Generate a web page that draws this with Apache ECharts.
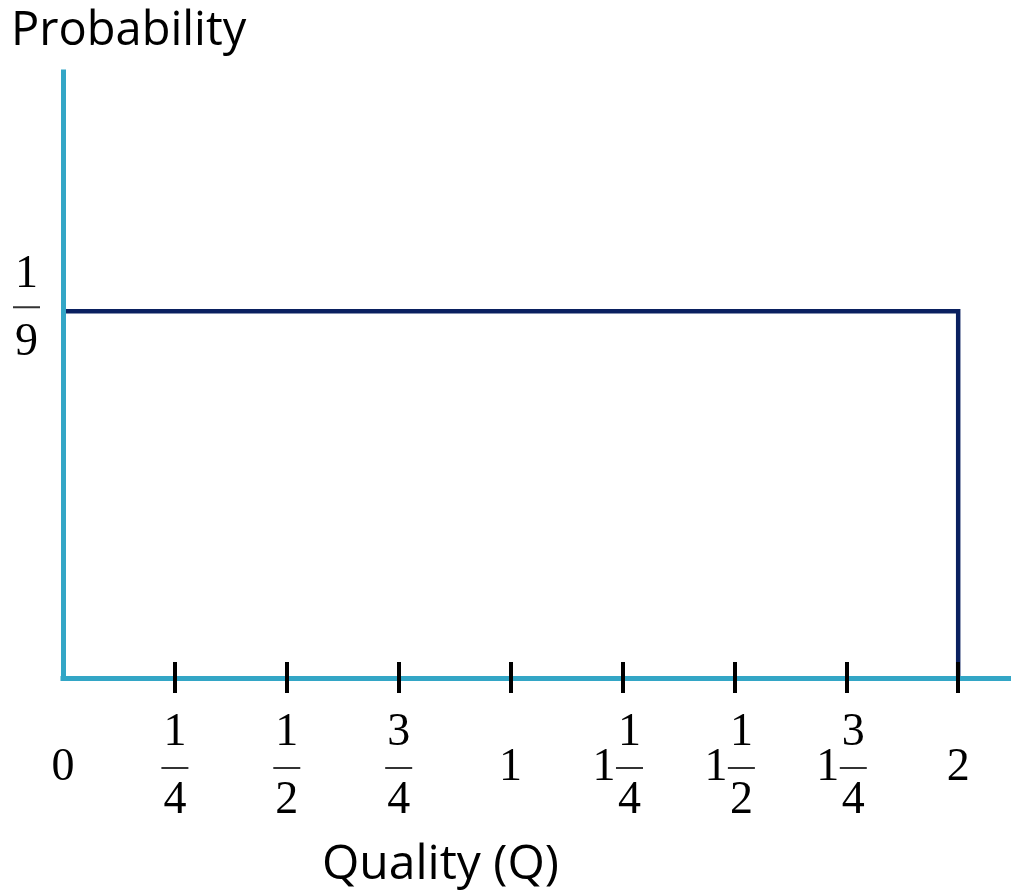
<!DOCTYPE html>
<html>
<head>
<meta charset="utf-8">
<script src="https://cdn.jsdelivr.net/npm/echarts@6/dist/echarts.min.js"></script>
<style>html,body{margin:0;padding:0;background:#fff;}#c{width:1011px;height:890px;}</style>
</head>
<body>
<div id="c"></div>
<script>
// ---- data ----
const xTickValues = [0.25, 0.5, 0.75, 1, 1.25, 1.5, 1.75, 2];
const xLabelValues = [0, 0.25, 0.5, 0.75, 1, 1.25, 1.5, 1.75, 2];
const xLabelWhole = ['0', '', '', '', '1', '1', '1', '1', '2'];
const xLabelNum   = ['', '1', '1', '3', '', '1', '1', '3', ''];
const xLabelDen   = ['', '4', '2', '4', '', '4', '2', '4', ''];
const yLabelValues = [1 / 9];
const yLabelNum = ['1'];
const yLabelDen = ['9'];
const probability = 1 / 9;
const seriesPoints = [[0, probability], [2, probability], [2, 0]];
const xName = 'Quality (Q)';
const yName = 'Probability';

// ---- styles ----
const axisBlue = '#33A6C6';
const lineNavy = '#0A2060';
const serif = '"Liberation Serif", "Times New Roman", serif';
const fs = 46;

function fracRich(nLH, dLH) {
  return {
    n: { fontFamily: serif, fontSize: fs, color: '#000', lineHeight: nLH, width: 27, align: 'center' },
    d: { fontFamily: serif, fontSize: fs, color: '#000', lineHeight: dLH, width: 27, align: 'center' },
    m: { fontFamily: serif, fontSize: fs, color: '#000', lineHeight: 6 },
    w: { fontFamily: serif, fontSize: fs, color: '#000', lineHeight: 6, width: 24, align: 'center' },
    t: { fontSize: 10, width: 10, lineHeight: 6 },
    bar: { width: 27, height: 0, borderWidth: 2, borderColor: '#333', lineHeight: 6 }
  };
}

function idxOf(arr, v) {
  for (let i = 0; i < arr.length; i++) if (Math.abs(arr[i] - v) < 1e-6) return i;
  return -1;
}

function xFormatter(value) {
  const i = idxOf(xLabelValues, value);
  if (i < 0) return '';
  const whole = xLabelWhole[i], num = xLabelNum[i], den = xLabelDen[i];
  if (num) {
    if (whole) {
      return '{w| }{n|' + num + '}{t| }\n{w|' + whole + '}{bar|}{t| }\n{w| }{d|' + den + '}{t| }';
    }
    return '{n|' + num + '}\n{bar|}\n{d|' + den + '}';
  }
  return '{n| }\n{m|' + whole + '}\n{d| }';
}

function yFormatter(value) {
  const i = idxOf(yLabelValues, value);
  if (i < 0) return '';
  return '{n|' + yLabelNum[i] + '}\n{bar|}\n{d|' + yLabelDen[i] + '}';
}

const chart = echarts.init(document.getElementById('c'), null, { renderer: 'canvas' });
const xMin = 0, xMax = 2.118;

chart.setOption({
  animation: false,
  backgroundColor: '#fff',
  grid: { left: 63, right: 0, top: 72, bottom: 212 },
  graphic: [
    { type: 'text', left: 11, top: 8, style: { text: yName, font: '47px "Open Sans"', fill: '#000' } },
    { type: 'text', left: 322, top: 841, style: { text: xName, font: '48px "Open Sans"', fill: '#000' } }
  ],
  xAxis: [
    {
      type: 'value', min: xMin, max: xMax, position: 'bottom', z: 5,
      axisLine: { show: true, onZero: false, lineStyle: { color: axisBlue, width: 5, cap: 'square' } },
      axisTick: { show: true, inside: true, length: 16, customValues: xTickValues, lineStyle: { color: '#000', width: 4 } },
      axisLabel: { show: true, customValues: xLabelValues, formatter: xFormatter, margin: 23, rich: fracRich(64, 60), hideOverlap: false },
      splitLine: { show: false }
    },
    {
      type: 'value', min: xMin, max: xMax, position: 'bottom', z: 6,
      axisLine: { show: false },
      axisTick: { show: true, inside: false, length: 15, customValues: xTickValues, lineStyle: { color: '#000', width: 4 } },
      axisLabel: { show: false },
      splitLine: { show: false }
    }
  ],
  yAxis: {
    type: 'value', min: 0, max: 0.1836, z: 5,
    axisLine: { show: true, onZero: false, lineStyle: { color: axisBlue, width: 5, cap: 'square' } },
    axisTick: { show: false },
    axisLabel: { show: true, customValues: yLabelValues, formatter: yFormatter, margin: 23, rich: fracRich(58, 66) },
    splitLine: { show: false }
  },
  series: [{
    type: 'line',
    xAxisIndex: 0,
    data: seriesPoints,
    showSymbol: false,
    symbol: 'none',
    lineStyle: { color: lineNavy, width: 4.5, cap: 'butt', join: 'miter' },
    z: 2
  }]
});
</script>
</body>
</html>
